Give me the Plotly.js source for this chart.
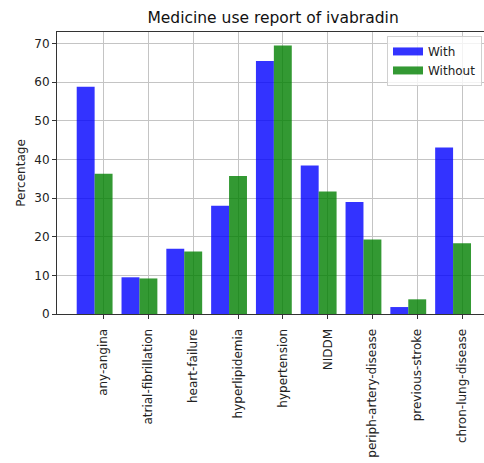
<!DOCTYPE html>
<html>
<head>
<meta charset="utf-8">
<script src="https://cdn.plot.ly/plotly-3.0.1.min.js"></script>
<style>
  html, body { margin: 0; padding: 0; background: #fff; }
  #chart { width: 484px; height: 463px; }
</style>
</head>
<body>
<div id="chart"></div>
<script>
// Comorbidity categories and the share of patients (%) in each group
const categories = [
  'any-angina', 'atrial-fibrillation', 'heart-failure', 'hyperlipidemia',
  'hypertension', 'NIDDM', 'periph-artery-disease', 'previous-stroke',
  'chron-lung-disease'
];
const withValues    = [58.8, 9.5, 16.9, 28.0, 65.5, 38.4, 29.0, 1.8, 43.1];
const withoutValues = [36.3, 9.2, 16.2, 35.7, 69.5, 31.7, 19.3, 3.8, 18.3];
const seriesNames = ['With', 'Without'];

const barWidth = 0.4;
const idx = categories.map((_, i) => i);

const font = { family: 'DejaVu Sans, sans-serif', size: 12, color: '#222' };

const traces = [
  {
    type: 'bar', name: seriesNames[0], legendgroup: 'w', showlegend: false,
    x: idx, y: withValues, width: barWidth,
    marker: { color: 'blue', opacity: 0.8, line: { width: 0 } },
    hoverinfo: 'y'
  },
  {
    type: 'bar', name: seriesNames[1], legendgroup: 'wo', showlegend: false,
    x: idx.map(i => i + barWidth), y: withoutValues, width: barWidth,
    marker: { color: 'green', opacity: 0.8, line: { width: 0 } },
    hoverinfo: 'y'
  },
  // legend keys drawn as wide patches
  {
    type: 'scatter', mode: 'lines', name: seriesNames[0], legendgroup: 'w',
    x: [null], y: [null], line: { color: 'blue', width: 8 }, opacity: 0.8
  },
  {
    type: 'scatter', mode: 'lines', name: seriesNames[1], legendgroup: 'wo',
    x: [null], y: [null], line: { color: 'green', width: 8 }, opacity: 0.8
  }
];

const yMax = Math.max(...withValues, ...withoutValues) * 1.05;

const layout = {
  width: 484, height: 463,
  margin: { l: 57, r: 0, t: 32, b: 149, pad: 0 },
  paper_bgcolor: '#fff', plot_bgcolor: '#fff',
  barmode: 'overlay',
  font: font,
  title: {
    text: 'Medicine use report of ivabradin',
    font: { family: 'DejaVu Sans, sans-serif', size: 15.5, color: '#111' },
    xref: 'paper', x: 0.506, xanchor: 'center',
    yref: 'container', y: 1 - 18 / 463, yanchor: 'middle'
  },
  xaxis: {
    range: [-0.64, 8.89],
    tickmode: 'array',
    tickvals: idx.map(i => i + barWidth),
    ticktext: categories,
    tickangle: -90,
    ticks: 'outside', ticklen: 4, tickcolor: '#333', tickwidth: 1,
    ticklabelstandoff: 5,
    tickfont: font,
    showgrid: true, gridcolor: '#c4c4c4', gridwidth: 1,
    showline: true, linecolor: '#333', linewidth: 1, mirror: true,
    zeroline: false, automargin: false
  },
  yaxis: {
    range: [0, yMax],
    tick0: 0, dtick: 10,
    ticks: 'outside', ticklen: 4, tickcolor: '#333', tickwidth: 1,
    tickfont: font,
    showgrid: true, gridcolor: '#c4c4c4', gridwidth: 1,
    showline: true, linecolor: '#333', linewidth: 1, mirror: false,
    zeroline: false, automargin: false,
    title: { text: 'Percentage', font: font, standoff: 6 }
  },
  legend: {
    x: 0.7728, y: 0.986, xanchor: 'left', yanchor: 'top',
    bgcolor: 'rgba(255,255,255,0.8)', bordercolor: '#d0d0d0', borderwidth: 1,
    font: font, tracegroupgap: 0, itemwidth: 30
  },
  showlegend: true
};

Plotly.newPlot('chart', traces, layout, { displayModeBar: false, staticPlot: true });
</script>
</body>
</html>
